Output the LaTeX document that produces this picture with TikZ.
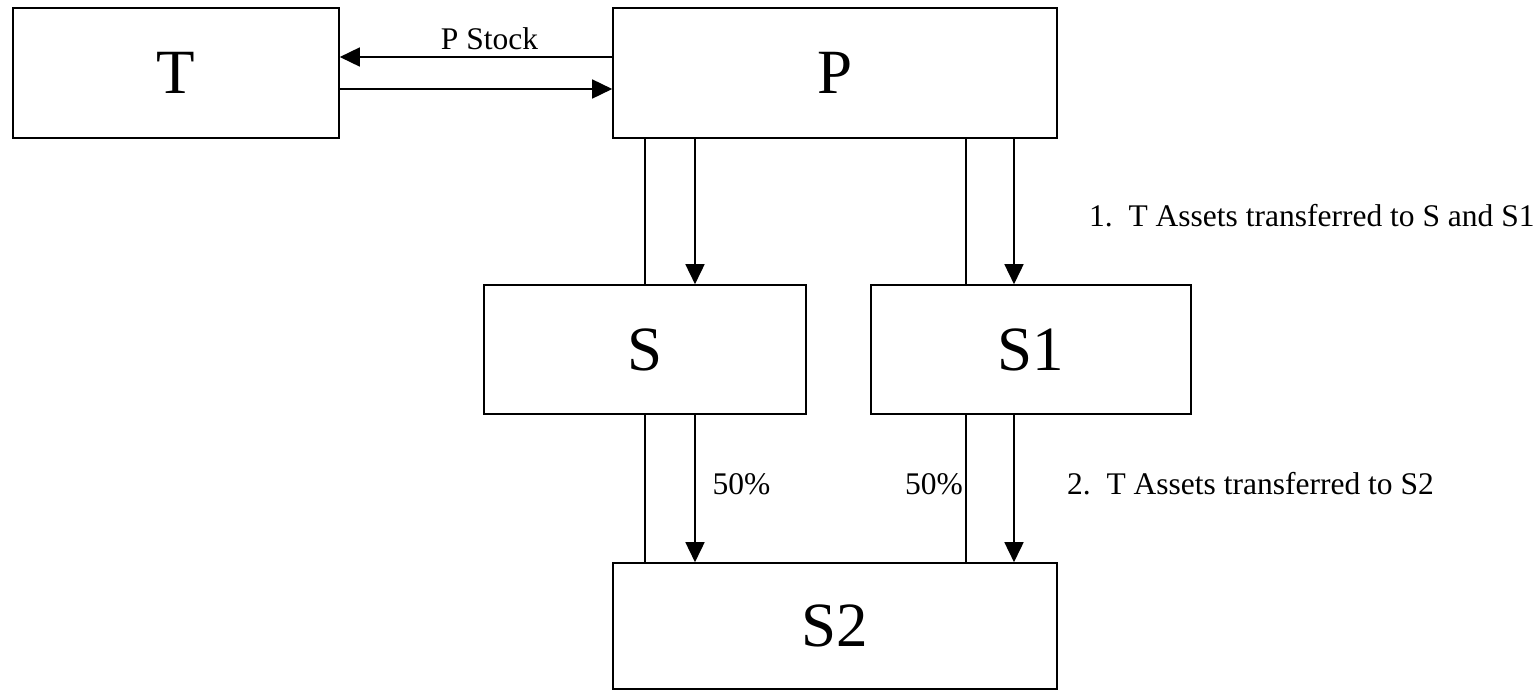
\documentclass[tikz,border=0pt]{standalone}
\usepackage{fontspec}
\setmainfont{Liberation Serif}
\usetikzlibrary{arrows.meta}
\tikzset{
  box/.style={draw, line width=1.6pt, rectangle, inner sep=0pt, font=\fontsize{63}{70}\selectfont},
  arr/.style={line width=1.6pt, -{Triangle[length=20pt,width=19pt]}},
  plain/.style={line width=1.6pt},
  lbl/.style={inner sep=0pt, font=\fontsize{31.5}{36}\selectfont}
}
\begin{document}
\begin{tikzpicture}[x=1pt,y=-1pt]
\useasboundingbox[fill=white] (0,0) rectangle (1539,691);
\node[box, minimum width=326pt, minimum height=130pt] (T) at (176,73) {T};
\node[box, minimum width=444pt, minimum height=130pt] (P) at (835,73) {P};
\node[box, minimum width=322pt, minimum height=129pt] (S) at (645,349.5) {S};
\node[box, minimum width=320pt, minimum height=129pt] (S1) at (1031,349.5) {S1};
\node[box, minimum width=444pt, minimum height=126pt] (S2) at (835,626) {S2};
% T <-> P
\draw[arr] ([yshift=16pt]P.west) -- ([yshift=16pt]T.east);
\draw[arr] ([yshift=-16pt]T.east) -- ([yshift=-16pt]P.west);
\node[lbl] (pstock) at (489.5,39) {P Stock};
% P -> S, S1
\draw[plain] ([xshift=-190pt]P.south) -- (S.north);
\draw[arr] ([xshift=-140pt]P.south) -- ([xshift=50pt]S.north);
\draw[plain] ([xshift=131pt]P.south) -- ([xshift=-65pt]S1.north);
\draw[arr] ([xshift=179pt]P.south) -- ([xshift=-17pt]S1.north);
% S, S1 -> S2
\draw[plain] (S.south) -- ([xshift=-190pt]S2.north);
\draw[arr] ([xshift=50pt]S.south) -- ([xshift=-140pt]S2.north);
\draw[plain] ([xshift=-65pt]S1.south) -- ([xshift=131pt]S2.north);
\draw[arr] ([xshift=-17pt]S1.south) -- ([xshift=179pt]S2.north);
\node[lbl] (pl) at (741.5,484) {50\%};
\node[lbl] (pr) at (934,484) {50\%};
\node[lbl, anchor=west] (n1) at (1089,216) {1.~~T Assets transferred to S and S1};
\node[lbl, anchor=west] (n2) at (1067,484) {2.~~T Assets transferred to S2};
\end{tikzpicture}
\end{document}
